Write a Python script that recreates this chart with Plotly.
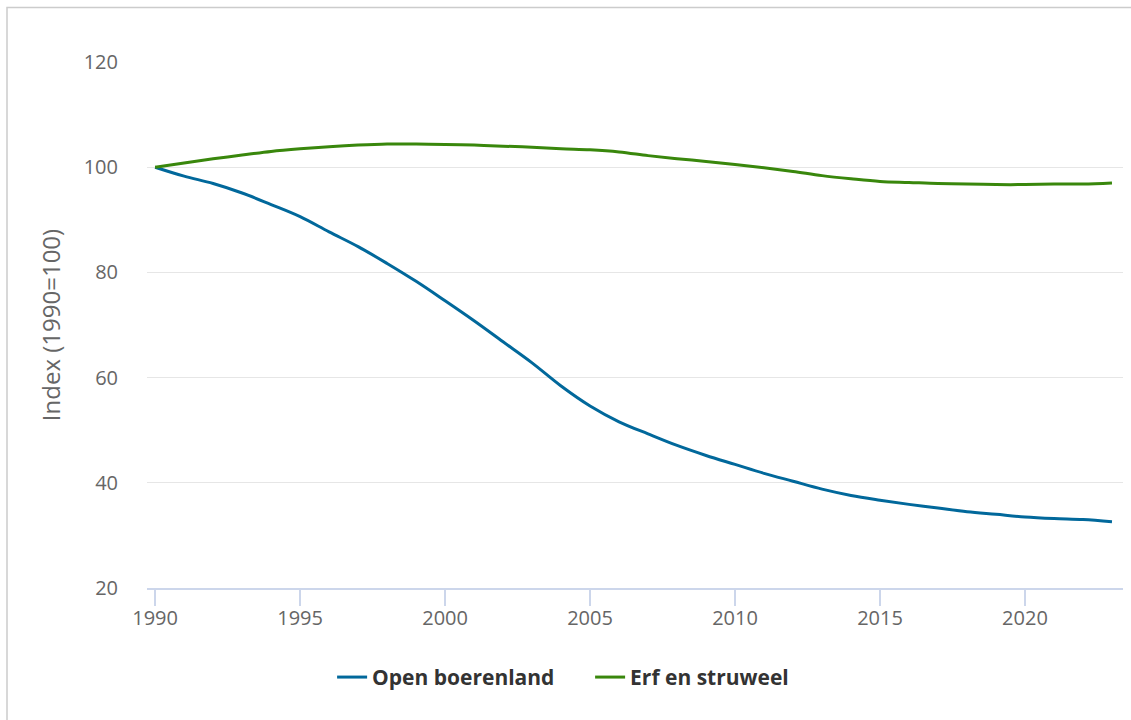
import plotly.graph_objects as go

years = list(range(1990, 2024))
open_boerenland = [100.0, 98.3, 96.9, 95.1, 92.9, 90.6, 87.7, 84.9, 81.7, 78.3,
                   74.6, 70.8, 66.8, 62.8, 58.4, 54.6, 51.6, 49.3, 47.1, 45.2,
                   43.5, 41.8, 40.3, 38.8, 37.6, 36.7, 35.9, 35.2, 34.5, 34.0,
                   33.5, 33.2, 33.0, 32.6]
erf_en_struweel = [100.0, 100.8, 101.6, 102.3, 103.0, 103.5, 103.9, 104.2, 104.4, 104.4,
                   104.3, 104.2, 104.0, 103.8, 103.5, 103.3, 102.9, 102.2, 101.6, 101.1,
                   100.5, 99.9, 99.2, 98.4, 97.8, 97.3, 97.1, 96.9, 96.8, 96.7,
                   96.7, 96.8, 96.8, 97.0]
series_names = ["Open boerenland", "Erf en struweel"]
x_ticks = [1990, 1995, 2000, 2005, 2010, 2015, 2020]
y_ticks = [20, 40, 60, 80, 100, 120]

FONT = "Open Sans"
fig = go.Figure()
fig.add_trace(go.Scatter(x=years, y=open_boerenland, name=series_names[0], mode="lines",
                         line=dict(color="#01689b", width=3, shape="spline", smoothing=1.0)))
fig.add_trace(go.Scatter(x=years, y=erf_en_struweel, name=series_names[1], mode="lines",
                         line=dict(color="#39870c", width=3, shape="spline", smoothing=1.0)))

fig.update_layout(
    width=1131, height=720,
    margin=dict(l=147, r=8, t=62, b=132, autoexpand=False),
    paper_bgcolor="white", plot_bgcolor="white",
    font=dict(family=FONT, color="#666666", size=20),
    showlegend=True,
    legend=dict(orientation="h", x=0.454, xanchor="center", y=-0.17, yanchor="middle",
                font=dict(family=FONT, size=21, color="#333333", weight="bold"),
                itemwidth=30, entrywidth=213, entrywidthmode="pixels", tracegroupgap=0),
    xaxis=dict(range=[1989.72, 2023.38], tickvals=x_ticks, showgrid=False,
               showline=True, linecolor="#ccd6eb", linewidth=1.5,
               ticks="outside", ticklen=16, tickcolor="#ccd6eb", tickwidth=1.5,
               ticklabelstandoff=-5,
               tickfont=dict(family=FONT, size=20, color="#666666"), zeroline=False),
    yaxis=dict(range=[20, 120], tickvals=y_ticks, showgrid=True, gridcolor="#e6e6e6",
               gridwidth=1, zeroline=False, showline=False, ticks="",
               ticklabelstandoff=28,
               tickfont=dict(family=FONT, size=20, color="#666666"),
               title=dict(text="Index (1990=100)", standoff=16,
                          font=dict(family=FONT, size=24, color="#666666"))),
    hovermode=False,
)

fig.add_shape(type="rect", xref="paper", yref="paper",
              x0=(7 - 147) / 976, x1=(1145 - 147) / 976,
              y0=(588 - 740) / 526, y1=(588 - 7.5) / 526,
              line=dict(color="#cccccc", width=1.5), fillcolor="rgba(0,0,0,0)", layer="below")

fig.write_html("out.html", config={"displayModeBar": False},
               post_script="document.body.style.margin='0';document.body.style.overflow='hidden';")
